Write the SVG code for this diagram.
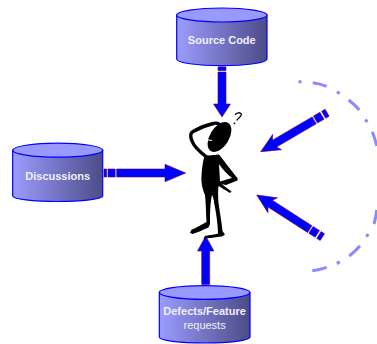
<svg xmlns="http://www.w3.org/2000/svg" width="377" height="344" viewBox="0 0 377 344">
<style>
.cyl{fill:url(#body);stroke:#0000ff;stroke-width:1.2}
.lid{fill:#9999ff;stroke:#0000ff;stroke-width:1.2}
.t{font-family:"Liberation Sans",Arial,sans-serif;font-size:11px;fill:#f0f0ff;text-anchor:middle}
.b{font-weight:bold}
.ar{fill:#0000ff;stroke:#660066;stroke-width:.6}
</style>
<defs>
<linearGradient id="body" x1="0" x2="1" y1="0" y2="0">
<stop offset="0" stop-color="#9c9cff"/><stop offset="1" stop-color="#4c4c88"/>
</linearGradient>
</defs>
<rect width="377" height="344" fill="#fff"/>
<g id="connectors">
<g id="arrow-source" class="ar" transform="translate(222,117) rotate(90)">
<path d="M0 0L-13 -8.500L-13 -4L-45 -4L-45 4L-13 4L-13 8.500Z"/><path d="M-46.500 -4H-50V4H-46.500Z"/><path d="M-51 -4H-53.500V4H-51Z"/>
</g>
<g id="arrow-discussions" class="ar" transform="translate(185.700,173)">
<path d="M0 0L-20.700 -8.700L-20.700 -4L-69 -4L-69 4L-20.700 4L-20.700 8.700Z"/><path d="M-70.500 -4H-77.700V4H-70.500Z"/><path d="M-79 -4H-81.700V4H-79Z"/>
</g>
<g id="arrow-defects" class="ar" transform="translate(205.700,236) rotate(-90)">
<path d="M0 0L-15 -8.200L-15 -4L-48.500 -4L-48.500 4L-15 4L-15 8.200Z"/>
<path d="M-50.500 -4H-53V4H-50.500Z"/><path d="M-54.500 -4H-57V4H-54.500Z"/>
</g>
<g id="arrow-upper" class="ar" transform="translate(260.700,151.700) rotate(-30.400)">
<path d="M0 0L19 -8.800L16 -4L62 -4L62 4L16 4L19 8.800Z"/>
<path d="M63.500 -4H71V4H63.500Z"/><path d="M73 -4H77V4H73Z"/>
</g>
<g id="arrow-lower" class="ar" transform="translate(256.700,195) rotate(32.700)">
<path d="M0 0L19 -8.800L16 -4L63 -4L63 4L16 4L19 8.800Z"/>
<path d="M64.500 -4H72V4H64.500Z"/><path d="M74 -4H78V4H74Z"/>
</g>
<path id="arc" fill="none" stroke="#8a8aff" stroke-width="3" d="M298.500 81.500L301.500 82M312.700 82.800Q320 83.800 326.700 86.300M336.800 91.800L339.800 93.300M348.700 100Q354.500 104.500 359.300 110M365.300 119.500L367.300 122M372.300 131.700Q375 138.500 376.700 146M376.700 210Q376 217 374 224M368 233.800L366.600 236.800M360 245.700Q355 251.500 349.300 256M339.800 261.800L336.800 263.600M326.700 267.300Q319.500 269.800 312.300 270.700"/>
</g>
<g id="source-code">
<path class="cyl" d="M176.700 15V59C176.700 62.800 197 65.700 221.800 65.700S267 62.800 267 59V15Z"/>
<ellipse class="lid" cx="221.800" cy="15" rx="45.200" ry="7"/>
<text class="t b" x="221.800" y="44">Source Code</text>
</g>
<g id="discussions">
<path class="cyl" d="M12.700 150V196C12.700 199 33 201.500 57.700 201.500S102.700 199 102.700 196V150Z"/>
<ellipse class="lid" cx="57.700" cy="150.200" rx="45" ry="7"/>
<text class="t b" x="57.700" y="180">Discussions</text>
</g>
<g id="defects">
<path class="cyl" d="M159.300 292.500V337C159.300 340.500 180 343 204.600 343S250 340.500 250 337V292.500Z"/>
<ellipse class="lid" cx="204.600" cy="292.500" rx="45.300" ry="6.800"/>
<text class="t b" x="204.600" y="315">Defects/Feature</text>
<text class="t" x="204.600" y="329">requests</text>
</g>
<g id="figure">
<ellipse cx="219.500" cy="137" rx="16.500" ry="9.500" transform="rotate(-58 219.500 137)"/>
<path d="M206.500 157C200 152 194 147 192 141C190 136 190 133 193 131.500C199 128 207 125 213.500 123.500C216 122.500 219 123.500 220.500 125.500" fill="none" stroke="#000" stroke-width="3.400"/>
<path d="M205 155C209 156 214 155 219 154.500C225 162 231 170 237.700 178.500L237.500 180.500L226 185C224 185 223 184 221.500 183.500C224 186 228 189 231.500 191.500L230 193C225 190 221 187.500 218.500 186C218 190 218 198 218.700 204C220 214 222 224 222.500 231L225 234.500L222 236.500C216 237 209 238.500 203.500 238.500L205 236C210 235 215 234.500 218 233.500C218 225 216 212 214 202C213.500 199 213 196 212 195C211 199 210.500 205 210.200 210C210 214 210 220 210 224L208.500 227.500C203 230 197 232.500 192.500 234L190 232.700L191.500 229.800C196 228 201 225 206.500 222C206 214 206 205 205 195C202 188 201 181 201.500 176C202 168 203 160 205 155Z"/>
<path d="M219 164C223 170 227 174 232 178L220 181.500Z" fill="#fff"/>
<path d="M204.500 139.500L212 140.500" stroke="#fff" stroke-width="1" fill="none"/>
<path d="M235 114.800C236.500 112.500 240 112 241.300 114C242 116.500 238 118 236.700 120.500" fill="none" stroke="#000" stroke-width="1.300"/>
<circle cx="234.500" cy="123.300" r=".9"/>
</g>
</svg>
